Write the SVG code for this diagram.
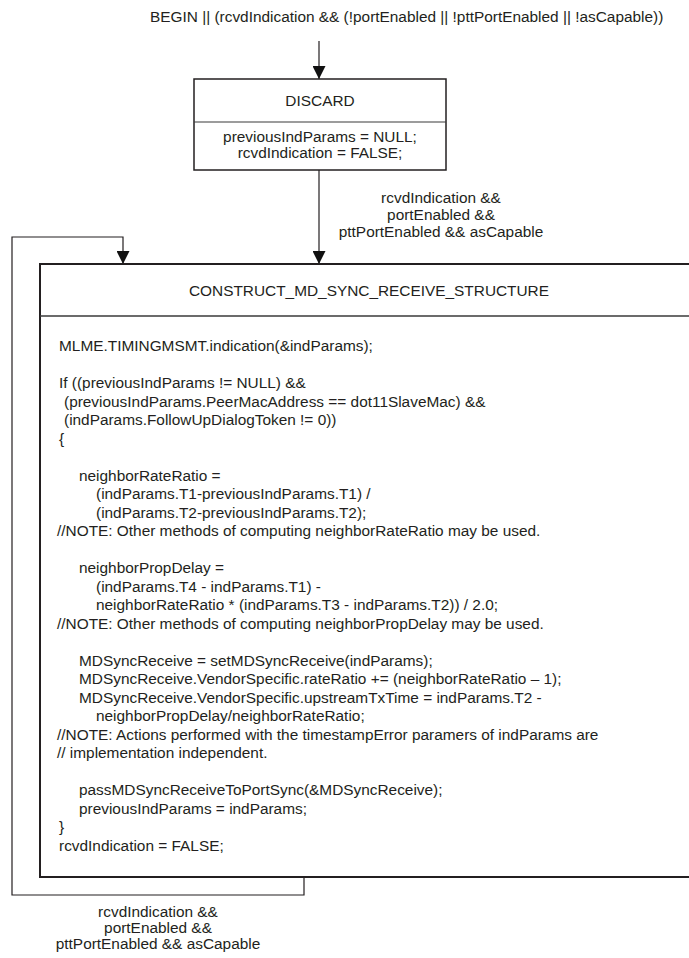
<svg xmlns="http://www.w3.org/2000/svg" width="689" height="958" viewBox="0 0 689 958">
<style>
.t{font-family:"Liberation Sans",Arial,Helvetica,sans-serif;font-size:15.4px;fill:#231f20}
.c{text-anchor:middle}
.box{fill:#fff;stroke:#231f20}
.div{stroke:#3a3a3a}
.conn{fill:none;stroke:#231f20;stroke-width:1.2}
</style>
<defs>
<marker id="ah" markerUnits="userSpaceOnUse" viewBox="0 0 13 13" refX="13" refY="6.5" markerWidth="13" markerHeight="13" orient="auto">
<path d="M0,0 L13,6.5 L0,13 Z" fill="#111"/>
</marker>
</defs>
<rect width="689" height="958" fill="#fff"/>

<text class="t" x="150" y="22">BEGIN || (rcvdIndication &amp;&amp; (!portEnabled || !pttPortEnabled || !asCapable))</text>

<g id="connectors">
<path class="conn" d="M319,41 V79" marker-end="url(#ah)"/>
<path class="conn" d="M319,170 V264" stroke="#555" marker-end="url(#ah)"/>
<path class="conn" d="M304,877 V895 H12 V237 H123 V264" marker-end="url(#ah)"/>
</g>

<g id="label-discard-to-construct">
<text class="t c" x="441" y="203">rcvdIndication &amp;&amp;</text>
<text class="t c" x="441" y="220">portEnabled &amp;&amp;</text>
<text class="t c" x="441" y="237">pttPortEnabled &amp;&amp; asCapable</text>
</g>

<g id="label-loop">
<text class="t c" x="158" y="917">rcvdIndication &amp;&amp;</text>
<text class="t c" x="158" y="933">portEnabled &amp;&amp;</text>
<text class="t c" x="158" y="949">pttPortEnabled &amp;&amp; asCapable</text>
</g>

<g id="DISCARD">
<rect class="box" x="194" y="79" width="252" height="91" stroke-width="1.5"/>
<line class="div" x1="194" y1="122" x2="446" y2="122" stroke-width="1.2"/>
<text class="t c" x="320" y="105.5">DISCARD</text>
<text class="t c" x="320" y="141.5">previousIndParams = NULL;</text>
<text class="t c" x="320" y="157.5">rcvdIndication = FALSE;</text>
</g>

<g id="CONSTRUCT_MD_SYNC_RECEIVE_STRUCTURE">
<rect class="box" x="40" y="264" width="700" height="613" stroke-width="2"/>
<line class="div" x1="40" y1="316" x2="689" y2="316" stroke-width="1.5"/>
<text class="t c" x="369" y="296">CONSTRUCT_MD_SYNC_RECEIVE_STRUCTURE</text>
<text class="t" x="59" y="351">MLME.TIMINGMSMT.indication(&amp;indParams);</text>
<text class="t" x="59" y="388">If ((previousIndParams != NULL) &amp;&amp;</text>
<text class="t" x="64" y="406.5">(previousIndParams.PeerMacAddress == dot11SlaveMac) &amp;&amp;</text>
<text class="t" x="64" y="425">(indParams.FollowUpDialogToken != 0))</text>
<text class="t" x="59" y="443.5">{</text>
<text class="t" x="79" y="480.5">neighborRateRatio =</text>
<text class="t" x="96" y="499">(indParams.T1-previousIndParams.T1) /</text>
<text class="t" x="96" y="517.5">(indParams.T2-previousIndParams.T2);</text>
<text class="t" x="57" y="536">//NOTE: Other methods of computing neighborRateRatio may be used.</text>
<text class="t" x="79" y="573">neighborPropDelay =</text>
<text class="t" x="96" y="591.5">(indParams.T4 - indParams.T1) -</text>
<text class="t" x="96" y="610">neighborRateRatio * (indParams.T3 - indParams.T2)) / 2.0;</text>
<text class="t" x="57" y="628.5">//NOTE: Other methods of computing neighborPropDelay may be used.</text>
<text class="t" x="79" y="665.5">MDSyncReceive = setMDSyncReceive(indParams);</text>
<text class="t" x="79" y="684">MDSyncReceive.VendorSpecific.rateRatio += (neighborRateRatio – 1);</text>
<text class="t" x="79" y="702.5">MDSyncReceive.VendorSpecific.upstreamTxTime = indParams.T2 -</text>
<text class="t" x="96" y="721">neighborPropDelay/neighborRateRatio;</text>
<text class="t" x="57" y="739.5">//NOTE: Actions performed with the timestampError paramers of indParams are</text>
<text class="t" x="57" y="758">// implementation independent.</text>
<text class="t" x="79" y="795">passMDSyncReceiveToPortSync(&amp;MDSyncReceive);</text>
<text class="t" x="79" y="813.5">previousIndParams = indParams;</text>
<text class="t" x="59" y="832">}</text>
<text class="t" x="59" y="850.5">rcvdIndication = FALSE;</text>
</g>
</svg>
